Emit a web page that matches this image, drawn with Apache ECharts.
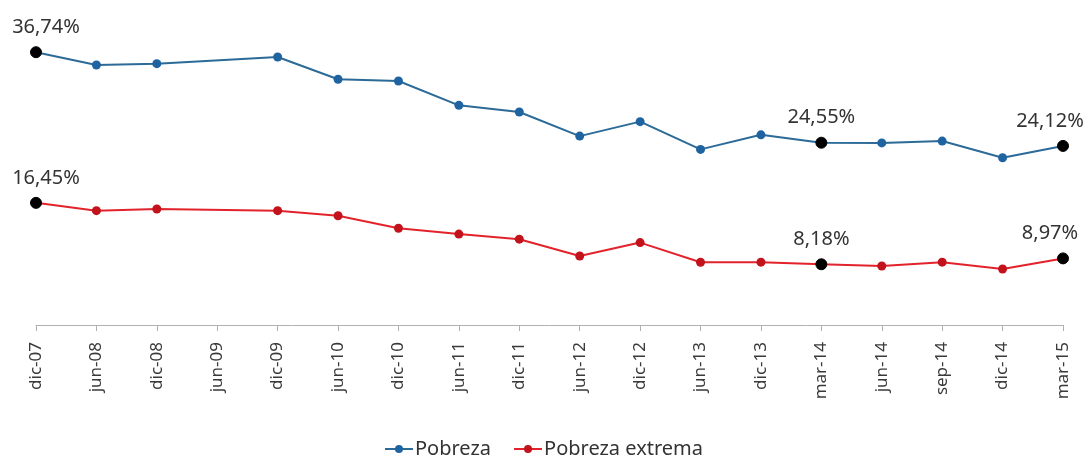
<!DOCTYPE html>
<html>
<head>
<meta charset="utf-8">
<script src="https://cdn.jsdelivr.net/npm/echarts@6/dist/echarts.min.js"></script>
<style>
  html, body { margin: 0; padding: 0; background: #fff; }
  #chart { width: 1087px; height: 457px; }
</style>
</head>
<body>
<div id="chart"></div>
<script>
// Period labels along the x axis (jun-09 has no survey value)
const periods = ['dic-07', 'jun-08', 'dic-08', 'jun-09', 'dic-09', 'jun-10', 'dic-10', 'jun-11',
  'dic-11', 'jun-12', 'dic-12', 'jun-13', 'dic-13', 'mar-14', 'jun-14', 'sep-14', 'dic-14', 'mar-15'];

// Poverty rates, percent
const pobreza = [36.74, 35.01, 35.20, null, 36.09, 33.09, 32.86, 29.58, 28.68, 25.44, 27.39,
  23.65, 25.61, 24.55, 24.52, 24.77, 22.53, 24.12];
const pobrezaExtrema = [16.45, 15.40, 15.63, null, 15.40, 14.72, 13.03, 12.24, 11.56, 9.30, 11.10,
  8.45, 8.46, 8.18, 7.94, 8.46, 7.54, 8.97];

// Points that carry a value label and a black marker
const labelled = ['dic-07', 'mar-14', 'mar-15'];

const FONT = '"Noto Sans", "Open Sans", sans-serif';
const fmt = v => v.toFixed(2).replace('.', ',') + '%';

function buildData(values) {
  return values.map((v, i) => {
    const name = periods[i];
    if (!labelled.includes(name) || v == null) return v;
    let offset = [0, 0];
    if (i === 0) offset = [10, 0];
    if (i === values.length - 1) offset = [-13, 0];
    return {
      value: v,
      symbolSize: 11,
      itemStyle: { color: '#000', borderColor: '#000' },
      label: {
        show: true,
        position: 'top',
        distance: 9,
        offset: offset,
        formatter: p => fmt(p.value),
        color: '#333',
        fontSize: 20,
        fontFamily: FONT
      }
    };
  });
}

const chart = echarts.init(document.getElementById('chart'), null, { renderer: 'canvas' });

chart.setOption({
  backgroundColor: '#ffffff',
  animation: false,
  grid: { left: 36, right: 24, top: 28, bottom: 132 },
  legend: {
    bottom: -7,
    left: 'center',
    itemWidth: 28,
    itemHeight: 10,
    itemGap: 22,
    textStyle: { color: '#333', fontSize: 20, fontFamily: FONT, padding: [0, 0, 0, -3] },
    data: ['Pobreza', 'Pobreza extrema']
  },
  xAxis: {
    type: 'category',
    data: periods,
    boundaryGap: false,
    axisLine: { lineStyle: { color: '#b0b0b0', width: 1 } },
    axisTick: { show: true, length: 6, alignWithLabel: true, lineStyle: { color: '#b0b0b0' } },
    axisLabel: {
      rotate: 90,
      margin: 17,
      interval: 0,
      color: '#3a3a3a',
      fontSize: 17,
      fontFamily: FONT
    },
    splitLine: { show: false }
  },
  yAxis: {
    type: 'value',
    min: 0,
    max: 40,
    show: false
  },
  series: [
    {
      name: 'Pobreza',
      type: 'line',
      data: buildData(pobreza),
      connectNulls: true,
      symbol: 'circle',
      symbolSize: 9,
      lineStyle: { color: '#2c6a98', width: 2 },
      itemStyle: { color: '#1f63a0' }
    },
    {
      name: 'Pobreza extrema',
      type: 'line',
      data: buildData(pobrezaExtrema),
      connectNulls: true,
      symbol: 'circle',
      symbolSize: 9,
      lineStyle: { color: '#e3232b', width: 2 },
      itemStyle: { color: '#c2121c' }
    }
  ]
});
</script>
</body>
</html>
